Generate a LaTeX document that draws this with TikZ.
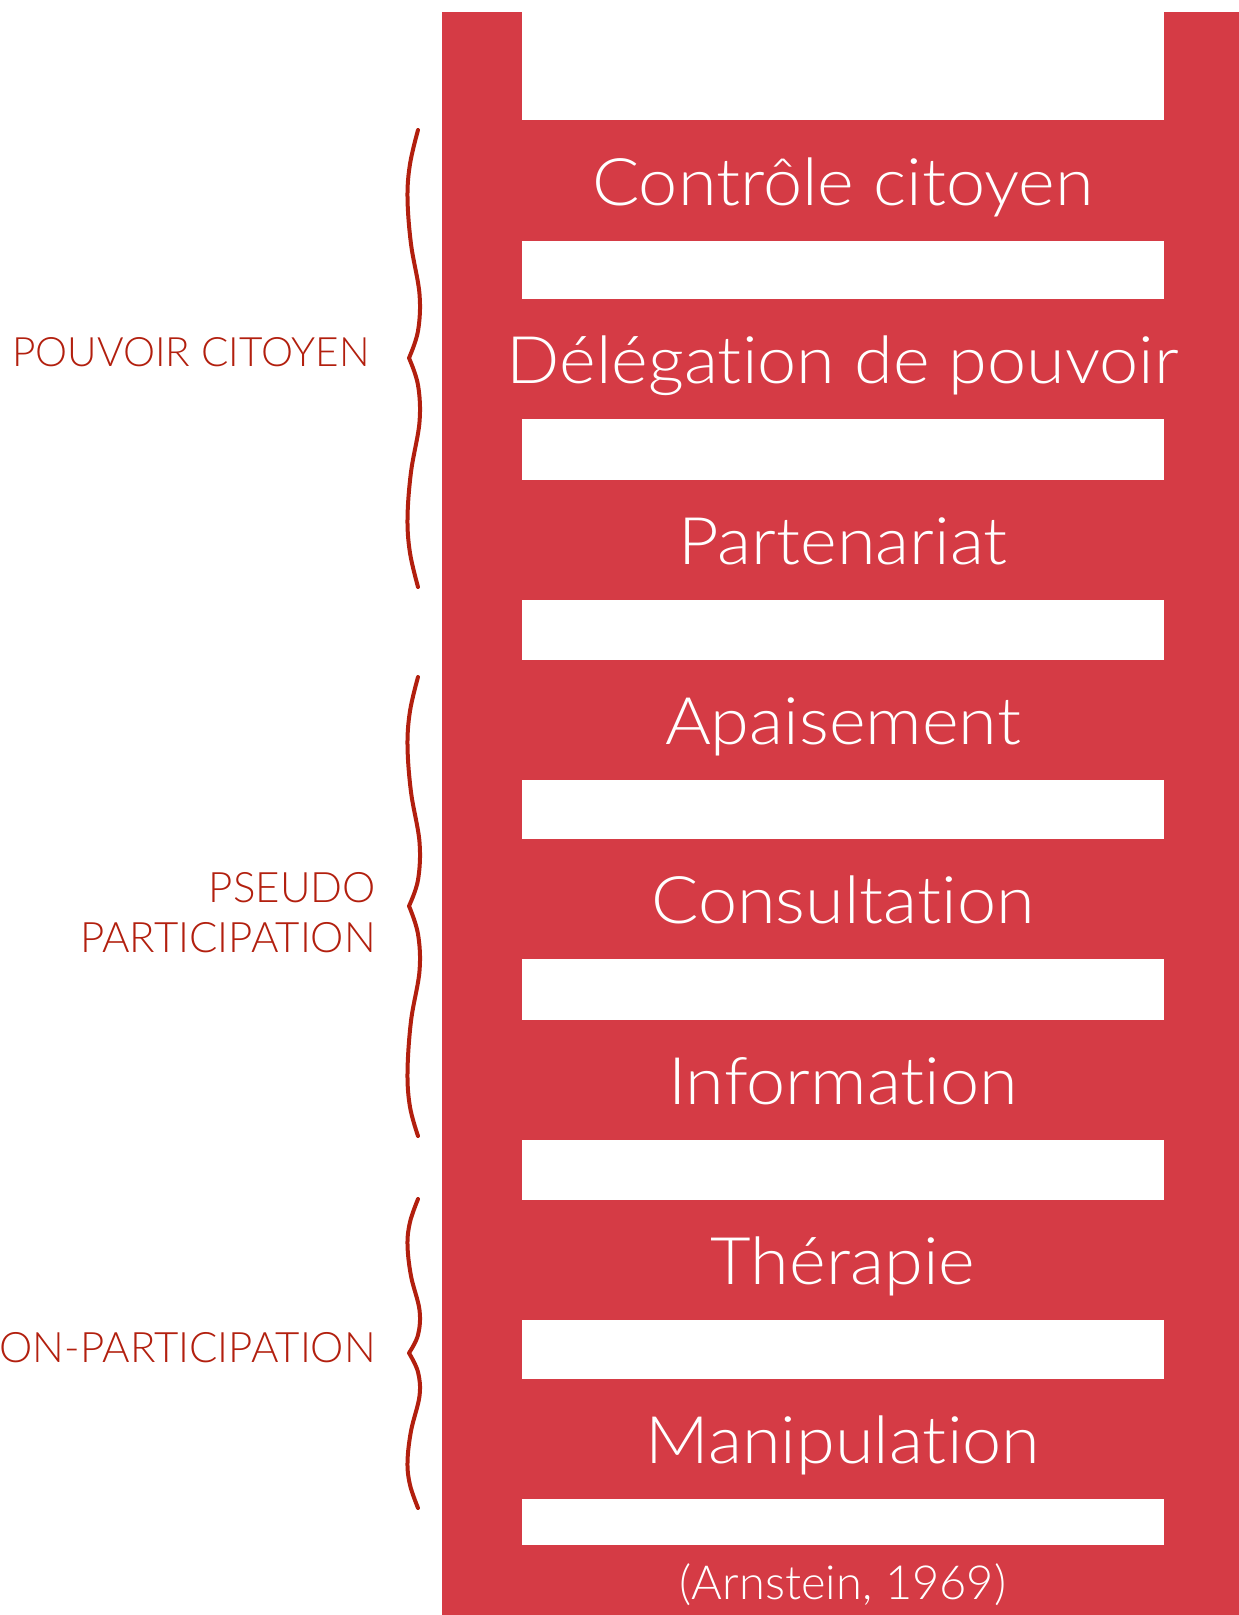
\documentclass[tikz,border=0pt]{standalone}
\usepackage{fontspec}
\setmainfont{Lato Light}[Ligatures=NoCommon]
\newfontfamily\rungfont{Lato Light}[FakeStretch=1.07,Ligatures=NoCommon]
\definecolor{ladderred}{HTML}{D53B45}
\definecolor{labelred}{HTML}{B21F0E}

\begin{document}
\begin{tikzpicture}[x=1pt,y=-1pt,
		rungtext/.style={anchor=base,text=white,inner sep=0pt,font=\rungfont\fontsize{65.6}{70}\selectfont},
		sidetext/.style={anchor=base east,text=labelred,inner sep=0pt,font=\fontsize{42}{46}\selectfont},
		brace/.style={draw=labelred,line width=4pt,line cap=round,line join=miter}]
		%frame
			\useasboundingbox (0,0) rectangle (1239,1615);
			\clip (0,0) rectangle (1239,1615);
		%ladder
			\fill[ladderred] (442,12) rectangle (1239,1615);
			\fill[white] (522,12) rectangle (1164,120);
			\fill[white] (522,241) rectangle (1164,299);
			\fill[white] (522,419) rectangle (1164,480);
			\fill[white] (522,600) rectangle (1164,660);
			\fill[white] (522,780) rectangle (1164,839);
			\fill[white] (522,959) rectangle (1164,1020);
			\fill[white] (522,1140) rectangle (1164,1200);
			\fill[white] (522,1320) rectangle (1164,1379);
			\fill[white] (522,1499) rectangle (1164,1545);
		%rungs
			\node[rungtext] (controle) at (843,205) {Contrôle citoyen};
			\node[rungtext] (delegation) at (843,383) {Délégation de pouvoir};
			\node[rungtext] (partenariat) at (843,564) {Partenariat};
			\node[rungtext] (apaisement) at (843,744) {Apaisement};
			\node[rungtext] (consultation) at (843,923) {Consultation};
			\node[rungtext] (information) at (843,1104) {Information};
			\node[rungtext] (therapie) at (843,1284) {Thérapie};
			\node[rungtext] (manipulation) at (843,1463) {Manipulation};
			\node[rungtext,font=\fontsize{47}{50}\selectfont] (source) at (843,1599) {(Arnstein, 1969)};
		%braces
			\draw[brace] plot[smooth,tension=0.6] coordinates {(418,130) (410,164) (407.5,198) (411,244) (419.5,294) (418,331) (409,358)}
				plot[smooth,tension=0.6] coordinates {(409,358) (418,385) (419.5,422) (411,472) (407.5,518) (410,553) (418,587)};
			\draw[brace] plot[smooth,tension=0.6] coordinates {(418,677) (410,711) (407.5,746) (411,792) (419.5,842) (418,880) (409,906)}
				plot[smooth,tension=0.6] coordinates {(409,906) (418,934) (419.5,971) (411,1021) (407.5,1072) (410,1107) (418,1136)};
			\draw[brace] plot[smooth,tension=0.6] coordinates {(418,1199) (410,1222) (407.5,1245) (411,1276) (419.5,1310) (418,1335) (409,1353)}
				plot[smooth,tension=0.6] coordinates {(409,1353) (418,1372) (419.5,1396) (411,1431) (407.5,1462) (410,1485) (418,1508)};
		%side labels
			\node[sidetext,font=\fontsize{40.5}{44}\selectfont] (pouvoir) at (370,366) {POUVOIR CITOYEN};
			\node[sidetext] (pseudo) at (376,902) {PSEUDO};
			\node[sidetext] (pseudopart) at (376,952) {PARTICIPATION};
			\node[sidetext] (nonpart) at (376,1362) {NON-PARTICIPATION};
	\end{tikzpicture}
\end{document}
